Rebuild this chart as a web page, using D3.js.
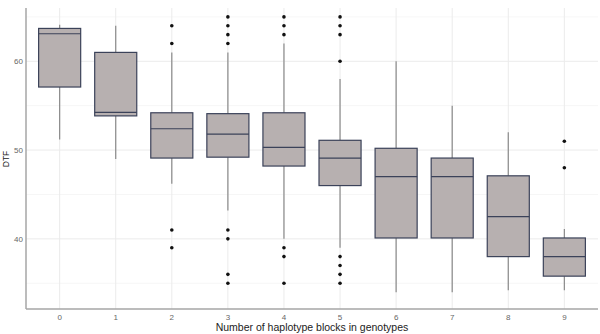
<!DOCTYPE html>
<html>
<head>
<meta charset="utf-8">
<script src="https://cdn.jsdelivr.net/npm/d3@7"></script>
<style>
  body { margin: 0; background: #fff; }
  text { font-family: "Liberation Sans", Arial, sans-serif; }
</style>
</head>
<body>
<script>
// box summaries
var categories = ["0", "1", "2", "3", "4", "5", "6", "7", "8", "9"];
var lowWhisker = [51.2, 49, 46.2, 43.2, 40, 39, 34, 34, 34.2, 34.2];
var q1 = [57.1, 53.85, 49.1, 49.2, 48.2, 46, 40.1, 40.1, 38, 35.8];
var median = [63.1, 54.25, 52.4, 51.8, 50.3, 49.1, 47, 47, 42.5, 38];
var q3 = [63.7, 61, 54.2, 54.1, 54.2, 51.1, 50.2, 49.1, 47.1, 40.1];
var highWhisker = [64.1, 64, 61, 61, 62, 58, 60, 55, 52, 41.1];
var outliers = [
  [],
  [],
  [64, 62, 41, 39],
  [65, 64, 63, 62, 41, 40, 36, 35],
  [65, 64, 63, 39, 38, 35],
  [65, 64, 63, 60, 38, 37, 36, 35],
  [],
  [],
  [],
  [51, 48]
];
var yTicks = [40, 50, 60];
var yMinor = [35, 45, 55, 65];

var width = 600, height = 334;
var margin = {top: 8, right: 2, bottom: 25, left: 26};

var svg = d3.select("body").append("svg")
    .attr("width", width)
    .attr("height", height);

var x = d3.scalePoint()
    .domain(categories)
    .range([margin.left, width - margin.right])
    .padding(0.6);

var y = d3.scaleLinear()
    .domain([32.1, 66])
    .range([height - margin.bottom, margin.top]);

var boxW = x.step() * 0.75;

// grid
svg.selectAll(".minor").data(yMinor).enter().append("line")
    .attr("x1", margin.left).attr("x2", width - margin.right)
    .attr("y1", d => y(d)).attr("y2", d => y(d))
    .attr("stroke", "#f4f4f4").attr("stroke-width", 0.8);

svg.selectAll(".major").data(yTicks).enter().append("line")
    .attr("x1", margin.left).attr("x2", width - margin.right)
    .attr("y1", d => y(d)).attr("y2", d => y(d))
    .attr("stroke", "#ebebeb").attr("stroke-width", 1);

svg.selectAll(".vgrid").data(categories).enter().append("line")
    .attr("x1", d => x(d)).attr("x2", d => x(d))
    .attr("y1", margin.top).attr("y2", height - margin.bottom)
    .attr("stroke", "#ebebeb").attr("stroke-width", 1);

// boxes
var g = svg.selectAll(".box").data(categories).enter().append("g");

g.append("line")
    .attr("x1", d => x(d)).attr("x2", d => x(d))
    .attr("y1", (d, i) => y(q3[i])).attr("y2", (d, i) => y(highWhisker[i]))
    .attr("stroke", "#8a8a8a").attr("stroke-width", 1.2);

g.append("line")
    .attr("x1", d => x(d)).attr("x2", d => x(d))
    .attr("y1", (d, i) => y(q1[i])).attr("y2", (d, i) => y(lowWhisker[i]))
    .attr("stroke", "#8a8a8a").attr("stroke-width", 1.2);

g.append("rect")
    .attr("x", d => x(d) - boxW / 2)
    .attr("width", boxW)
    .attr("y", (d, i) => y(q3[i]))
    .attr("height", (d, i) => y(q1[i]) - y(q3[i]))
    .attr("fill", "#b7b0b0")
    .attr("stroke", "#3b4259")
    .attr("stroke-width", 1.2);

g.append("line")
    .attr("x1", d => x(d) - boxW / 2).attr("x2", d => x(d) + boxW / 2)
    .attr("y1", (d, i) => y(median[i])).attr("y2", (d, i) => y(median[i]))
    .attr("stroke", "#3b4259").attr("stroke-width", 1.2);

g.each(function (d, i) {
  d3.select(this).selectAll("circle").data(outliers[i]).enter().append("circle")
      .attr("cx", x(d))
      .attr("cy", v => y(v))
      .attr("r", 1.8)
      .attr("fill", "#111");
});

// axes
svg.append("line")
    .attr("x1", margin.left).attr("x2", margin.left)
    .attr("y1", margin.top).attr("y2", height - margin.bottom)
    .attr("stroke", "#a6a6a6").attr("stroke-width", 1.5);

svg.append("line")
    .attr("x1", margin.left).attr("x2", width - margin.right)
    .attr("y1", height - margin.bottom).attr("y2", height - margin.bottom)
    .attr("stroke", "#a6a6a6").attr("stroke-width", 1.5);

svg.selectAll(".ylab").data(yTicks).enter().append("text")
    .attr("x", margin.left - 3)
    .attr("y", d => y(d))
    .attr("dy", "0.35em")
    .attr("text-anchor", "end")
    .attr("font-size", 8)
    .attr("fill", "#666")
    .text(d => d);

svg.selectAll(".xlab").data(categories).enter().append("text")
    .attr("x", d => x(d))
    .attr("y", height - margin.bottom + 11)
    .attr("text-anchor", "middle")
    .attr("font-size", 8)
    .attr("fill", "#666")
    .text(d => d);

svg.append("text")
    .attr("x", (margin.left + width - margin.right) / 2)
    .attr("y", height - 3)
    .attr("text-anchor", "middle")
    .attr("font-size", 10.5)
    .attr("fill", "#222")
    .text("Number of haplotype blocks in genotypes");

svg.append("text")
    .attr("transform", "translate(9," + y(49) + ") rotate(-90)")
    .attr("text-anchor", "middle")
    .attr("font-size", 8.5)
    .attr("fill", "#222")
    .text("DTF");
</script>
</body>
</html>
